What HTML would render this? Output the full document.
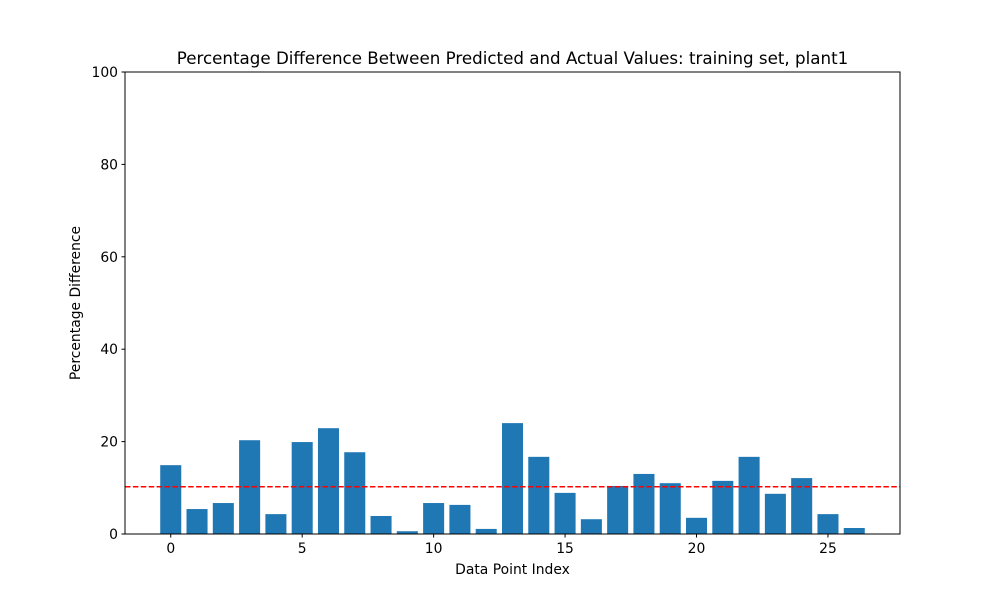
<!DOCTYPE html>
<html><head><meta charset="utf-8"><style>body{margin:0;background:#fff}svg{font-family:"DejaVu Sans","Liberation Sans",sans-serif}</style></head>
<body>
<svg id="chart" width="1000" height="600"></svg>
<script>
const categories = [0,1,2,3,4,5,6,7,8,9,10,11,12,13,14,15,16,17,18,19,20,21,22,23,24,25,26];
const values = [14.9,5.4,6.7,20.3,4.3,19.9,22.9,17.7,3.9,0.6,6.7,6.3,1.1,24.0,16.7,8.9,3.2,10.4,13.0,11.0,3.5,11.5,16.7,8.7,12.1,4.3,1.3];
const xTicks = [0,5,10,15,20,25];
const yTicks = [0,20,40,60,80,100];

const NS='http://www.w3.org/2000/svg';
const svg=document.getElementById('chart');
const L=125,R=900,T=72,B=534;
const xmin=-1.74,xmax=27.74,ymin=0,ymax=100;
const X=v=>L+(v-xmin)/(xmax-xmin)*(R-L);
const Y=v=>B-(v-ymin)/(ymax-ymin)*(B-T);
function mk(tag,attrs,text){const e=document.createElementNS(NS,tag);for(const k in attrs)e.setAttribute(k,attrs[k]);if(text!==undefined)e.textContent=text;svg.appendChild(e);return e;}

categories.forEach((c,i)=>{
  const r=mk('rect',{x:X(c-0.4),y:Y(values[i]),width:X(c+0.4)-X(c-0.4),height:Y(0)-Y(values[i]),fill:'#1f77b4'});
  
  
});
const mean=values.reduce((a,b)=>a+b,0)/values.length;
const ml=mk('line',{x1:L,x2:R,y1:Y(mean),y2:Y(mean),stroke:'#ff0000','stroke-width':1.5,'stroke-dasharray':'5.5,2.4'});



const fr=mk('rect',{x:L,y:T,width:R-L,height:B-T,fill:'none',stroke:'#000','stroke-width':1});



xTicks.forEach(t=>{
  mk('line',{x1:X(t),x2:X(t),y1:B,y2:B+3.5,stroke:'#000'});
  const tx=mk('text',{x:X(t),y:B+19,'text-anchor':'middle','font-size':13.9},t);
  
  
});
yTicks.forEach(t=>{
  mk('line',{x1:L-3.5,x2:L,y1:Y(t),y2:Y(t),stroke:'#000'});
  const tx=mk('text',{x:L-7,y:Y(t)+5,'text-anchor':'end','font-size':13.9},t);
  
  
});
const xt=mk('text',{x:(L+R)/2,y:574,'text-anchor':'middle','font-size':13.9},'Data Point Index');


const yt=mk('text',{x:0,y:0,transform:'translate(80,303) rotate(-90)','text-anchor':'middle','font-size':13.9},'Percentage Difference');


const ti=mk('text',{x:(L+R)/2,y:64,'text-anchor':'middle','font-size':16.7},'Percentage Difference Between Predicted and Actual Values: training set, plant1');


</script>
</body></html>
